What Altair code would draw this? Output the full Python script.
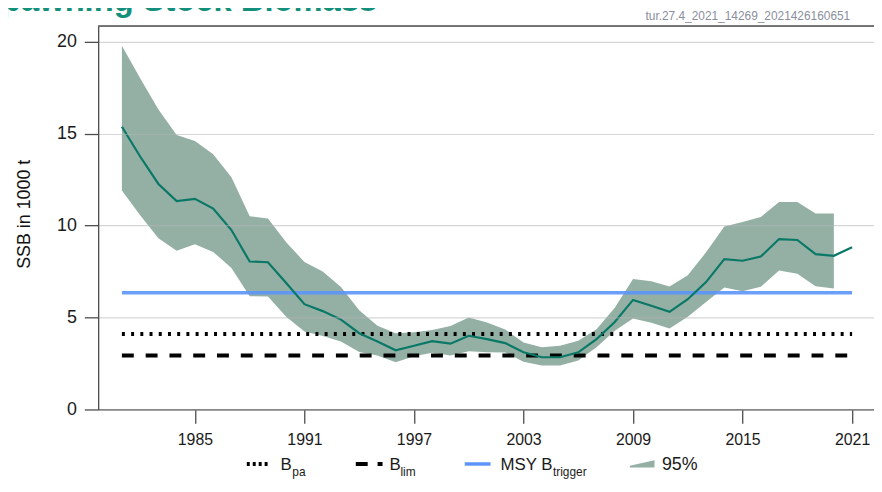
import altair as alt
import pandas as pd

# ---- data ----
years = list(range(1981, 2022))
ssb = [15.38, 13.76, 12.27, 11.34, 11.46, 10.93, 9.76, 8.05, 8.01, 6.88,
       5.73, 5.35, 4.89, 4.15, 3.70, 3.22, 3.47, 3.72, 3.58, 4.01,
       3.83, 3.61, 3.11, 2.84, 2.84, 3.11, 3.83, 4.76, 5.96, 5.64,
       5.31, 6.00, 6.93, 8.18, 8.09, 8.32, 9.27, 9.22, 8.45, 8.36, 8.82]
ci_years = list(range(1981, 2021))
ci_low = [11.91, 10.57, 9.31, 8.64, 8.99, 8.57, 7.70, 6.16, 6.14, 5.04,
          4.24, 4.00, 3.70, 3.12, 2.93, 2.57, 2.90, 3.09, 2.93, 3.17,
          3.11, 3.10, 2.60, 2.39, 2.39, 2.66, 3.38, 4.28, 4.95, 4.72,
          4.40, 5.05, 5.85, 6.64, 6.43, 6.67, 7.56, 7.39, 6.70, 6.58]
ci_high = [19.78, 18.02, 16.32, 14.93, 14.61, 13.89, 12.63, 10.51, 10.39, 9.10,
           8.02, 7.51, 6.66, 5.40, 4.55, 4.15, 4.20, 4.32, 4.54, 5.00,
           4.73, 4.35, 3.65, 3.38, 3.47, 3.74, 4.37, 5.54, 7.10, 6.97,
           6.69, 7.30, 8.55, 9.95, 10.20, 10.47, 11.28, 11.28, 10.66, 10.66]
ref_names = ["Blim", "Bpa", "MSY Btrigger"]
ref_values = [2.936, 4.11, 6.353]
ref_start = [1981, 1981, 1981]
ref_end = [2021, 2021, 2021]
x_ticks = [1985, 1991, 1997, 2003, 2009, 2015, 2021]
y_ticks = [0, 5, 10, 15, 20]

df_line = pd.DataFrame({"year": years, "ssb": ssb})
df_band = pd.DataFrame({"year": ci_years, "low": ci_low, "high": ci_high})
df_ref = pd.DataFrame({"name": ref_names, "value": ref_values,
                       "start": ref_start, "end": ref_end})
one = pd.DataFrame({"a": [0]})

W, H = 783, 387
FONT = "Liberation Sans"
x_scale = alt.Scale(domain=[1979.7, 2022.2], nice=False, zero=False)
y_scale = alt.Scale(domain=[0, 20.86], nice=False, zero=False)

x_axis = alt.Axis(values=x_ticks, format="d", title=None, grid=False,
                  tickSize=14, tickWidth=1.3, domainWidth=1.3,
                  domainColor="#4d4d4d", tickColor="#4d4d4d",
                  labelFontSize=16, labelPadding=8, labelColor="#1a1a1a",
                  labelFont=FONT)
y_axis = alt.Axis(values=y_ticks, title="SSB in 1000 t", grid=True,
                  gridColor="#b5b5b5", gridOpacity=0.55, gridWidth=1.2,
                  tickSize=14, tickWidth=1.3, domainWidth=1.3,
                  domainColor="#4d4d4d", tickColor="#4d4d4d",
                  labelFontSize=18, labelPadding=8, labelColor="#1a1a1a",
                  labelFont=FONT, titleFont=FONT, titleFontSize=18,
                  titleFontWeight="normal", titleColor="#111111",
                  titleX=-74, titleY=H / 2 - 4, titleAlign="center",
                  titleBaseline="middle", titleAngle=270, zindex=1)


def X(field):
    return alt.X(field, type="quantitative", scale=x_scale, axis=x_axis)


def Y(field):
    return alt.Y(field, type="quantitative", scale=y_scale, axis=y_axis)


band = alt.Chart(df_band).mark_area(color="#94b0a5", opacity=1).encode(
    x=X("year"), y=Y("low"), y2="high",
)


def ref_layer(name, **mark):
    return alt.Chart(df_ref).transform_filter(
        alt.datum.name == name
    ).mark_rule(**mark).encode(
        x=X("start"), x2="end", y=Y("value"),
    )


blim = ref_layer("Blim", color="black", strokeWidth=4, strokeDash=[12, 12])
bpa = ref_layer("Bpa", color="black", strokeWidth=4, strokeDash=[3, 6.3])
btrig = ref_layer("MSY Btrigger", color="#5b95f9", strokeWidth=3.5, opacity=0.9)

line = alt.Chart(df_line).mark_line(color="#0a7866", strokeWidth=2.2).encode(
    x=X("year"), y=Y("ssb"),
)

frame = alt.Chart(one).mark_rule(color="#4d4d4d", strokeWidth=1.5).encode(
    x=alt.value(0), x2=alt.value(W), y=alt.value(0))

stamp = alt.Chart(one).mark_text(
    text="tur.27.4_2021_14269_2021426160651", align="right", baseline="middle",
    fontSize=12, color="#8a8e9c", font=FONT).encode(
    x=alt.value(759), y=alt.value(-10))

title = alt.Chart(one).mark_text(
    text="Spawning Stock Biomass", align="left", baseline="alphabetic",
    fontSize=33, fontWeight="bold", color="#13907b", font=FONT).encode(
    x=alt.value(-120), y=alt.value(-15))

# ---- legend (drawn by hand, for the subscripts) ----
LY = 442  # legend line y, relative to plot top
leg = []
leg.append(alt.Chart(one).mark_rule(color="black", strokeWidth=4, strokeDash=[3, 3]).encode(
    x=alt.value(150), x2=alt.value(172), y=alt.value(LY)))
leg.append(alt.Chart(one).mark_rule(color="black", strokeWidth=4, strokeDash=[12, 10]).encode(
    x=alt.value(260), x2=alt.value(287), y=alt.value(LY)))
leg.append(alt.Chart(one).mark_rule(color="#5b95f9", strokeWidth=3.5).encode(
    x=alt.value(370), x2=alt.value(396), y=alt.value(LY)))
leg.append(alt.Chart(one).mark_point(
    shape="M -1 0.28 L 1 0.28 L 1 -0.3 L -1 0.14 Z", filled=True,
    color="#94b0a5", opacity=1, size=620).encode(
    x=alt.value(549), y=alt.value(LY)))


def txt(s, x, y, size):
    return alt.Chart(one).mark_text(text=s, align="left", baseline="alphabetic",
                                    fontSize=size, color="#1a1a1a", font=FONT).encode(
        x=alt.value(x), y=alt.value(y))


TB = LY + 6
SB = LY + 12
leg += [txt("B", 184, TB, 17), txt("pa", 196, SB, 12),
        txt("B", 294, TB, 17), txt("lim", 305, SB, 12),
        txt("MSY B", 406, TB, 17), txt("trigger", 459, SB, 12),
        txt("95%", 569, TB, 18)]

chart = alt.layer(band, bpa, blim, btrig, line, frame, stamp, title, *leg).properties(
    width=W, height=H,
    autosize=alt.AutoSizeParams(type="none"),
    padding={"left": 91, "top": 16, "right": 0, "bottom": 70},
).configure_view(stroke=None).configure(font=FONT)

chart.save("out.html", embed_options={"renderer": "svg", "actions": False})
